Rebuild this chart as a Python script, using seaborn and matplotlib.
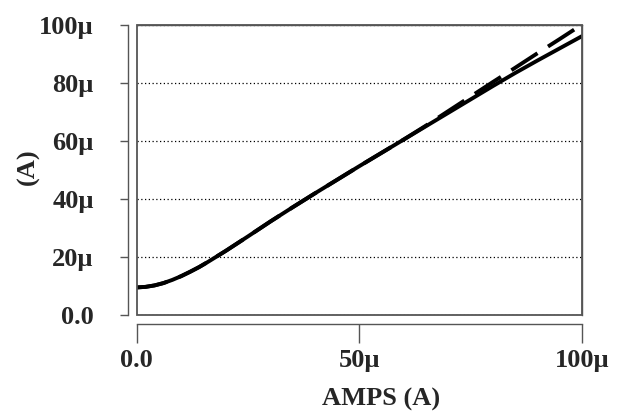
import pandas as pd
import matplotlib
matplotlib.use("Agg")
import matplotlib.pyplot as plt
from matplotlib.patches import Rectangle
import seaborn as sns

# 数据（单位 µA）
x_vals = [0, 2, 4, 6, 8, 10, 12, 14, 16, 18, 20, 25, 30, 35, 40, 45, 50,
          55, 60, 65, 70, 75, 80, 85, 90, 95, 100]
solid_vals = [9.4, 9.6, 10.1, 10.9, 12.0, 13.3, 14.8, 16.4, 18.2, 20.1, 22.0,
              27.0, 32.1, 37.0, 41.8, 46.5, 51.2, 55.8, 60.4, 65.0, 69.6,
              74.2, 78.8, 83.3, 87.6, 91.8, 96.0]
dashed_vals = [9.4, 9.6, 10.1, 10.9, 12.0, 13.3, 14.8, 16.4, 18.2, 20.1, 22.0,
               27.0, 32.1, 37.0, 41.8, 46.5, 51.2, 55.8, 60.4, 65.2, 70.2,
               75.2, 80.2, 85.1, 90.1, 95.0, 100.0]
x_ticks = [0, 50, 100]
x_tick_labels = ["0.0", "50\u00b5", "100\u00b5"]
y_ticks = [0, 20, 40, 60, 80, 100]
y_tick_labels = ["0.0", "20\u00b5", "40\u00b5", "60\u00b5", "80\u00b5", "100\u00b5"]

sns.set_style("white")
plt.rcParams["font.family"] = ["Liberation Serif", "DejaVu Serif"]
plt.rcParams["font.weight"] = "bold"

df = pd.DataFrame({"x": x_vals, "solid": solid_vals, "dashed": dashed_vals})

fig = plt.figure(figsize=(6.22, 4.16), dpi=100)
ax = fig.add_axes([0.2198, 0.2435, 0.9352 - 0.2198, 0.9406 - 0.2435])

sns.lineplot(data=df, x="x", y="dashed", ax=ax, color="black", lw=2.8,
             linestyle=(0, (8, 3.2)), zorder=3)
sns.lineplot(data=df, x="x", y="solid", ax=ax, color="black", lw=2.8, zorder=4)

ax.set_xlim(0, 100)
ax.set_ylim(0, 100)
ax.set_xticks(x_ticks)
ax.set_xticklabels(x_tick_labels)
ax.set_yticks(y_ticks)
ax.set_yticklabels(y_tick_labels)

# 水平虚线网格
ax.yaxis.grid(True, color="black", linestyle=(0, (1, 2)), lw=0.9)
ax.xaxis.grid(False)

gray = "#555555"
for side in ["top", "right", "left", "bottom"]:
    ax.spines[side].set_color(gray)
    ax.spines[side].set_linewidth(1.0)
ax.spines["left"].set_position(("outward", 6))
ax.spines["bottom"].set_position(("outward", 7))

# 图框
ax.add_patch(Rectangle((0, 0), 1, 1, transform=ax.transAxes, fill=False,
                       edgecolor=gray, lw=1.3, zorder=5, clip_on=False))

ax.tick_params(axis="y", length=6, width=1.0, color=gray, pad=19,
               labelsize=19, left=True)
ax.tick_params(axis="x", length=13.5, width=1.0, color=gray, pad=4,
               labelsize=19, bottom=True)
for lab in ax.get_xticklabels() + ax.get_yticklabels():
    lab.set_fontweight("bold")

ax.set_xlabel("AMPS (A)", fontsize=19, fontweight="bold")
ax.set_ylabel("(A)", fontsize=19, fontweight="bold")
ax.xaxis.set_label_coords(0.548, -0.252)
ax.yaxis.set_label_coords(-0.218, 0.51)

plt.savefig("out.png", dpi=100)
plt.close()
